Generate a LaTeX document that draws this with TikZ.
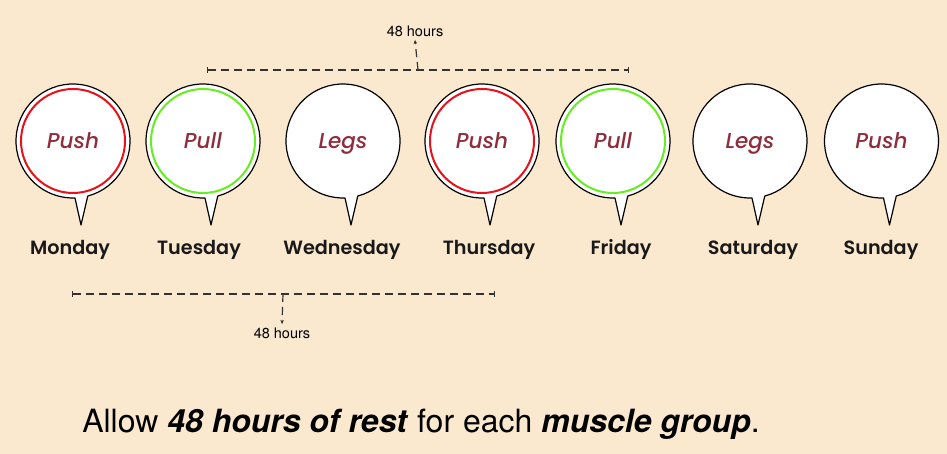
\documentclass[tikz,border=0pt]{standalone}
\usepackage{fontspec}
\usepackage{tikz}
\usetikzlibrary{arrows.meta,positioning}
\newfontfamily\dayfont{Poppins}[BoldFont={Poppins SemiBold},ItalicFont={Poppins Medium Italic}]
\newfontfamily\helv{TeX Gyre Heros}
\definecolor{PaperBg}{HTML}{FAE8CF}
\definecolor{WorkRed}{HTML}{8E2D3C}
\definecolor{RingRed}{HTML}{E8121C}
\definecolor{RingGreen}{HTML}{66EE22}
\definecolor{GuideGray}{HTML}{333333}
\tikzset{
  % Speech bubble outline
  bubble/.style={fill=white,draw=black,line width=1.2pt,line join=round},
  % Inner rings
  ringR/.style={circle,minimum size=104pt,inner sep=0pt,draw=RingRed,line width=2pt},
  ringG/.style={circle,minimum size=104pt,inner sep=0pt,draw=RingGreen,line width=2pt},
  ringN/.style={circle,minimum size=104pt,inner sep=0pt,draw=none},
  % Labels
  work/.style={anchor=base,font=\dayfont\itshape\fontsize{21.5}{24}\selectfont,text=WorkRed},
  daylbl/.style={anchor=base,font=\dayfont\bfseries\fontsize{19.2}{22}\selectfont,text=black!90},
  hrs/.style={font=\helv\fontsize{14.5}{17}\selectfont,text=black},
  % Guides
  span/.style={{Bar[width=6pt]}-{Bar[width=6pt]},GuideGray,line width=1.2pt,dash pattern=on 8pt off 5pt},
  lead/.style={-{Stealth[length=4pt,width=3.5pt]},GuideGray,line width=1.2pt,dash pattern=on 8pt off 5pt}
}
\begin{document}
\begin{tikzpicture}[x=1pt,y=1pt]
  \useasboundingbox (0,0) rectangle (947,454);
  \fill[PaperBg] (0,0) rectangle (947,454);

  % Bubbles and day names
  \foreach \cx/\lx/\ring/\work/\day [count=\i] in
      {73/70/ringR/Push/Monday, 203/199/ringG/Pull/Tuesday,
       343/342/ringN/Legs/Wednesday, 482/489/ringR/Push/Thursday,
       613/621/ringG/Pull/Friday, 750/753/ringN/Legs/Saturday,
       881.5/881/ringN/Push/Sunday}{
    \path[bubble] (\cx,313) ++(-75:57) arc[start angle=-75,end angle=272,radius=57]
      -- (\cx+8,229) -- cycle;
    \node[\ring] (r\i) at (\cx,313) {};
    \node[work]   (w\i) at (\cx,305) {\work};
    \node[daylbl] (d\i) at (\lx,199) {\day};
  }

  % Top span: Tuesday to Friday
  \coordinate (topL) at (207,384);
  \coordinate (topR) at (629,384);
  \coordinate (topM) at (418,384);
  \node[hrs] (topH) at (415,423) {48 hours};
  \draw[span] (topL) -- (topR);
  \draw[lead] (topM) -- (topH.south);

  % Bottom span: Monday to Thursday
  \coordinate (botL) at (72,160);
  \coordinate (botR) at (495,160);
  \coordinate (botM) at (283,160);
  \node[hrs] (botH) at (282,121) {48 hours};
  \draw[span] (botL) -- (botR);
  \draw[lead] (botM) -- (botH.north);

  % Caption
  \node[anchor=base,font=\helv\fontsize{32}{38}\selectfont] (note) at (421,21)
    {Allow \textbf{\textit{48 hours of rest}} for each \textbf{\textit{muscle group}}.};
\end{tikzpicture}
\end{document}
